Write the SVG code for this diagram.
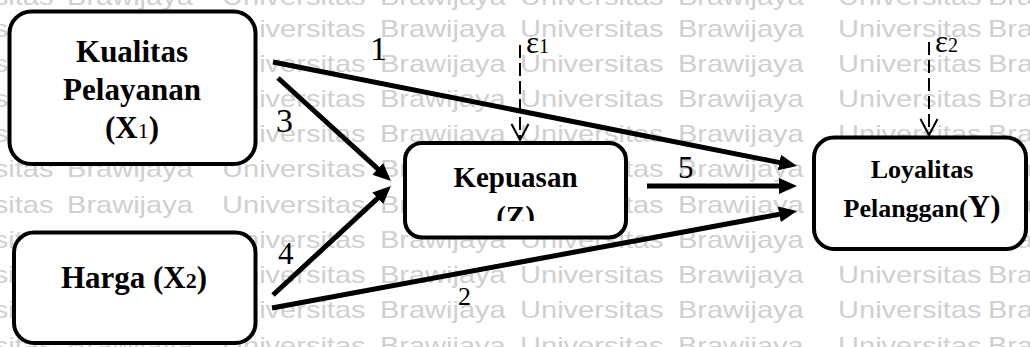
<svg xmlns="http://www.w3.org/2000/svg" xmlns:xlink="http://www.w3.org/1999/xlink" width="1030" height="347" viewBox="0 0 1030 347">
<style>
.wm{font-family:"Liberation Sans",Arial,sans-serif;font-size:24px;fill:#d0d0d0}
.box{fill:#fff;stroke:#000;stroke-width:4}
.nt{font-family:"Liberation Serif","Times New Roman",serif;font-weight:bold;fill:#000;text-anchor:middle}
.num{font-family:"Liberation Serif","Times New Roman",serif;fill:#000}
.sub{font-weight:normal}
.conn{stroke:#000;stroke-width:5;fill:none;marker-end:url(#ah)}
.err{stroke:#000;stroke-width:2;fill:none;stroke-dasharray:13 5;marker-end:url(#oh)}
</style>
<defs>
<marker id="ah" viewBox="0 0 18 16" markerWidth="18" markerHeight="16" refX="2" refY="8" orient="auto" markerUnits="userSpaceOnUse">
<path d="M0,0 L18,8 L0,16 z" fill="#000"/>
</marker>
<marker id="oh" viewBox="0 0 20 20" markerWidth="20" markerHeight="20" refX="17" refY="10" orient="auto" markerUnits="userSpaceOnUse">
<path d="M1,1.5 L17,10 L1,18.5" fill="none" stroke="#000" stroke-width="2" stroke-dasharray="none"/>
</marker>
<clipPath id="zclip"><rect x="405" y="143" width="221" height="78"/></clipPath>
<text id="wm" class="wm" transform="scale(1.21,1)"><tspan x="-74.4">Universitas</tspan><tspan x="55.4">Brawijaya</tspan><tspan x="183.5">Universitas</tspan><tspan x="314">Brawijaya</tspan><tspan x="429.8">Universitas</tspan><tspan x="560.3">Brawijaya</tspan><tspan x="692.6">Universitas</tspan><tspan x="816.5">Brawijaya</tspan></text>
</defs>
<g id="watermark">
<use xlink:href="#wm" y="5"/>
<use xlink:href="#wm" y="37"/>
<use xlink:href="#wm" y="72"/>
<use xlink:href="#wm" y="107"/>
<use xlink:href="#wm" y="142"/>
<use xlink:href="#wm" y="177"/>
<use xlink:href="#wm" y="213"/>
<use xlink:href="#wm" y="248"/>
<use xlink:href="#wm" y="283"/>
<use xlink:href="#wm" y="318"/>
<use xlink:href="#wm" y="353.5"/>
</g>
<g id="connectors">
<line class="conn" x1="273" y1="62" x2="781.3" y2="162.9"/>
<line class="conn" x1="647" y1="186" x2="781" y2="186"/>
<line class="conn" x1="272" y1="308" x2="781.3" y2="213.9"/>
<line class="conn" x1="278" y1="78" x2="379.2" y2="170.2"/>
<line class="conn" x1="273" y1="295" x2="379.2" y2="196.9"/>
<line class="err" x1="520" y1="45" x2="520" y2="140"/>
<line class="err" x1="929" y1="42" x2="929" y2="135"/>
</g>
<g id="node-x1">
<rect class="box" x="9.5" y="11.5" width="246" height="152.5" rx="22"/>
<text class="nt" x="132" y="62" font-size="31">Kualitas</text>
<text class="nt" x="132" y="100" font-size="31">Pelayanan</text>
<text class="nt" x="132" y="138" font-size="31">(X<tspan class="sub" font-size="22">1</tspan>)</text>
</g>
<g id="node-x2">
<rect class="box" x="14" y="232.5" width="241.5" height="110.5" rx="20"/>
<text class="nt" x="134" y="288" font-size="31">Harga (X<tspan font-size="22">2</tspan>)</text>
</g>
<g id="node-z">
<rect class="box" x="405" y="143" width="221" height="94.5" rx="17"/>
<text class="nt" x="515.5" y="187" font-size="29">Kepuasan</text>
<text class="nt" x="515.5" y="226" font-size="29" clip-path="url(#zclip)">(Z)</text>
</g>
<g id="node-y">
<rect class="box" x="814" y="137.5" width="212" height="111.5" rx="20"/>
<text class="nt" x="922" y="178" font-size="26">Loyalitas</text>
<text class="nt" x="922" y="217" font-size="26">Pelanggan(<tspan font-size="31">Y)</tspan></text>
</g>
<g id="labels">
<text class="num" x="370" y="60" font-size="34">1</text>
<text class="num" x="276" y="132" font-size="34">3</text>
<text class="num" x="278" y="264" font-size="31">4</text>
<text class="num" x="678" y="178" font-size="31">5</text>
<text class="num" x="458" y="305" font-size="26">2</text>
<text class="num" x="526" y="53" font-size="31">ε<tspan font-size="20">1</tspan></text>
<text class="num" x="935" y="52" font-size="31">ε<tspan font-size="20">2</tspan></text>
</g>
</svg>
